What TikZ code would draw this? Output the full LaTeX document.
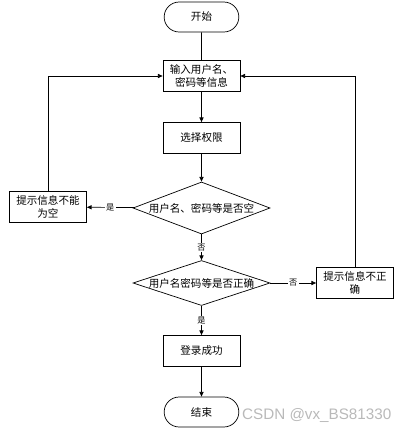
\documentclass[tikz,border=0pt]{standalone}
\usepackage{fontspec}
\setmainfont{Liberation Serif}
\newfontfamily\cjkfont{Noto Sans CJK SC}
\newfontfamily\markfont{Liberation Sans}
\usetikzlibrary{arrows.meta,positioning,shapes.geometric,shapes.misc}

\tikzset{
  base/.style={draw,line width=0.6pt,font=\cjkfont\fontsize{9}{11}\selectfont,
               align=center,inner sep=1pt},
  termbox/.style={base,rounded rectangle,minimum width=2.31cm,minimum height=0.9cm},
  procbox/.style={base,rectangle,minimum width=2.31cm,minimum height=0.93cm,text width=2.2cm},
  decbox/.style={base,diamond,inner sep=0pt,minimum width=4.11cm},
  link/.style={line width=0.6pt},
  flow/.style={link,-{Triangle[length=4pt,width=3.5pt]}},
  lbl/.style={fill=white,inner sep=1pt,font=\cjkfont\fontsize{7}{8}\selectfont}
}

\begin{document}
\begin{tikzpicture}[x=0.03cm,y=-0.03cm]
\useasboundingbox (0,0) rectangle (403,437);

% main column
\node[termbox] (start) at (201.5,17) {开始};
\node[procbox] (input) at (201.5,76) {输入用户名、\\密码等信息};
\node[procbox] (role) at (201.5,138) {选择权限};
\node[decbox,aspect=2.5,minimum height=1.5cm] (empty) at (201.5,208) {用户名、密码等是否空};
\node[decbox,aspect=3,minimum height=1.35cm] (check) at (201.5,283) {用户名密码等是否正确};
\node[procbox] (ok) at (201.5,351) {登录成功};
\node[termbox] (finish) at (201.5,412) {结束};

% side boxes
\node[procbox] (warnempty) at (48,207) {提示信息不能\\为空};
\node[procbox] (warnwrong) at (355,283) {提示信息不正\\确};

% connectors
\draw[link] (start) -- (input);
\draw[flow] (input) -- (role);
\draw[flow] (role) -- (empty);
\draw[flow] (empty) -- node[lbl] {是} (warnempty);
\draw[flow] (warnempty.north) |- (input.west);
\draw[flow] (empty) -- node[lbl] {否} (check);
\draw[flow] (check) -- node[lbl] {否} (warnwrong);
\draw[flow] (warnwrong.north) |- (input.east);
\draw[flow] (check) -- node[lbl] {是} (ok);
\draw[flow] (ok) -- (finish);

% watermark
\node[text=gray!55,font=\markfont\fontsize{13}{14}\selectfont,anchor=west] (mark) at (238,415) {CSDN @vx\_BS81330};
\end{tikzpicture}
\end{document}
